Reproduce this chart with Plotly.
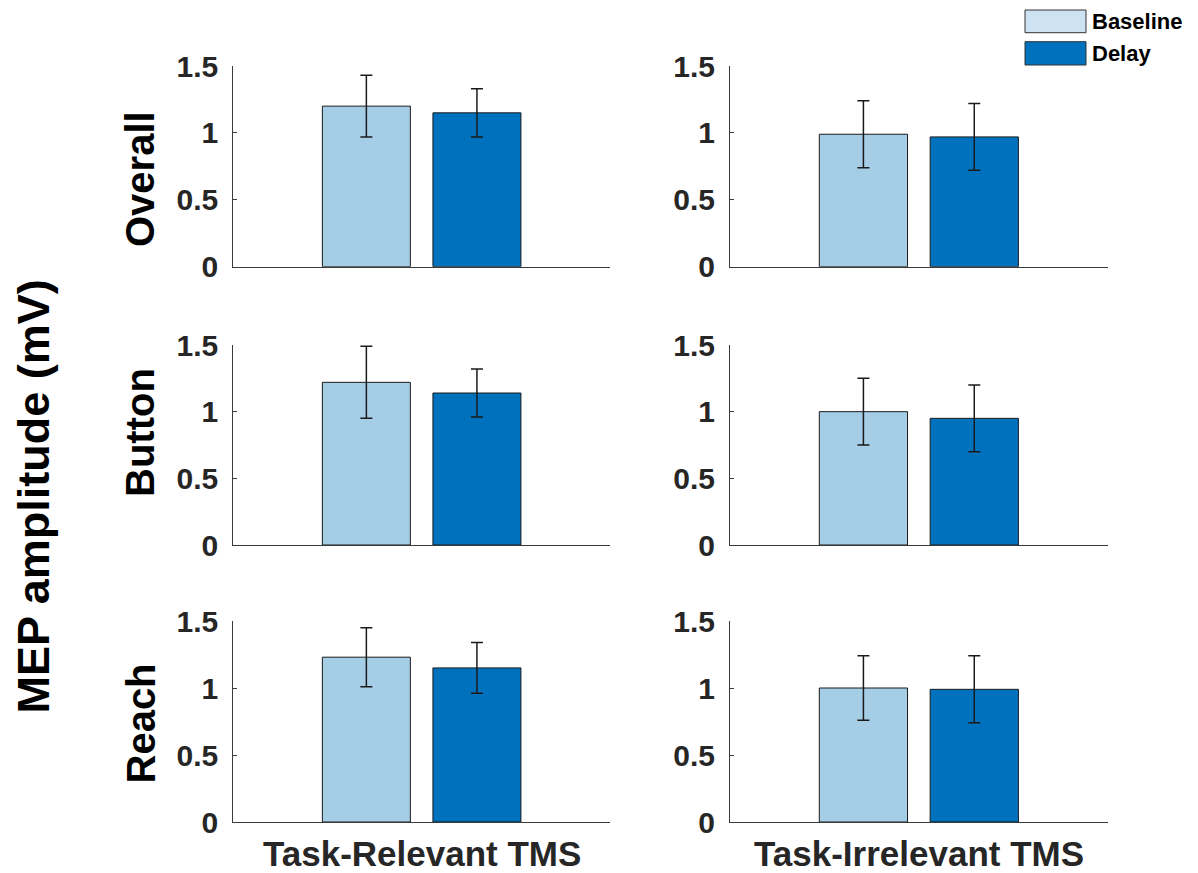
import plotly.graph_objects as go
from plotly.subplots import make_subplots

# MEP amplitude (mV): mean and error per condition
rows = ["Overall", "Button", "Reach"]
columns = ["Task-Relevant TMS", "Task-Irrelevant TMS"]
series = ["Baseline", "Delay"]

baseline_relevant = [1.20, 1.22, 1.23]
baseline_relevant_err = [0.23, 0.27, 0.22]
delay_relevant = [1.15, 1.14, 1.15]
delay_relevant_err = [0.18, 0.18, 0.19]

baseline_irrelevant = [0.99, 1.00, 1.00]
baseline_irrelevant_err = [0.25, 0.25, 0.24]
delay_irrelevant = [0.97, 0.95, 0.99]
delay_irrelevant_err = [0.25, 0.25, 0.25]

y_ticks = [0, 0.5, 1, 1.5]
y_tick_labels = ["0", "0.5", "1", "1.5"]

LIGHT = "#A6CDE6"
DARK = "#0072BD"
LEGEND_LIGHT = "#CDE3F2"
AXIS = "#3a3a3a"
TEXT = "#262626"
FONT = "Liberation Sans"

W, H = 1198, 873

def px_x(p):
    return p / W

def px_y(p):
    return 1 - p / H

fig = make_subplots(rows=3, cols=2)

col_data = [
    (baseline_relevant, baseline_relevant_err, delay_relevant, delay_relevant_err),
    (baseline_irrelevant, baseline_irrelevant_err, delay_irrelevant, delay_irrelevant_err),
]

for c, (b, be, d, de) in enumerate(col_data):
    for r in range(3):
        for name, vals, errs, color in [
            (series[0], b, be, LIGHT),
            (series[1], d, de, DARK),
        ]:
            fig.add_trace(
                go.Bar(
                    x=[columns[c]],
                    y=[vals[r]],
                    name=name,
                    marker=dict(color=color, line=dict(color="#1a1a1a", width=1)),
                    error_y=dict(type="data", array=[errs[r]], color="#1a1a1a",
                                 thickness=1.5, width=6),
                    showlegend=False,
                ),
                row=r + 1, col=c + 1,
            )

# panel placement in pixels
x_domains = [(233.3, 610.0), (730.0, 1107.7)]
y_domains = [(66.0, 266.7), (345.0, 545.0), (621.0, 822.0)]

for r in range(3):
    for c in range(2):
        x0, x1 = x_domains[c]
        y0, y1 = y_domains[r]
        fig.update_xaxes(
            domain=[px_x(x0), px_x(x1)],
            range=[-0.5, 0.5],
            showticklabels=False, ticks="",
            showline=True, linecolor=AXIS, linewidth=1,
            showgrid=False, zeroline=False, fixedrange=True,
            automargin=False,
            row=r + 1, col=c + 1,
        )
        fig.update_yaxes(
            domain=[px_y(y1), px_y(y0)],
            range=[0, 1.5],
            tickvals=y_ticks, ticktext=y_tick_labels,
            ticks="inside", ticklen=4, tickcolor=AXIS,
            ticklabelstandoff=8,
            tickfont=dict(family=FONT, size=30, color=TEXT, weight="bold"),
            showline=True, linecolor=AXIS, linewidth=1,
            showgrid=False, zeroline=False, fixedrange=True,
            automargin=False,
            row=r + 1, col=c + 1,
        )

annotations = []
# column titles under the bottom row
for c, title in enumerate(columns):
    x0, x1 = x_domains[c]
    annotations.append(dict(
        text=title, xref="paper", yref="paper",
        x=px_x((x0 + x1) / 2), y=0, xanchor="center", yanchor="bottom",
        yshift=-2, showarrow=False,
        font=dict(family=FONT, size=35, color=TEXT, weight="bold"),
    ))

# row labels
row_centres = [179, 433, 723.5]
for label, yc in zip(rows, row_centres):
    annotations.append(dict(
        text=label, xref="paper", yref="paper",
        x=px_x(140), y=px_y(yc), xanchor="center", yanchor="middle",
        textangle=-90, showarrow=False,
        font=dict(family=FONT, size=40, color="black", weight="bold"),
    ))

# shared y label
annotations.append(dict(
    text="MEP amplitude (mV)", xref="paper", yref="paper",
    x=px_x(33), y=px_y(496.5), xanchor="center", yanchor="middle",
    textangle=-90, showarrow=False,
    font=dict(family=FONT, size=45, color="black", weight="bold"),
))

# legend
shapes = []
legend_rows = [(series[0], LEGEND_LIGHT, 10, 32.7), (series[1], DARK, 41.7, 65)]
for name, color, top, bottom in legend_rows:
    shapes.append(dict(
        type="rect", xref="paper", yref="paper",
        x0=px_x(1025), x1=px_x(1086), y0=px_y(bottom), y1=px_y(top),
        fillcolor=color, line=dict(color="#333333", width=1),
    ))
    annotations.append(dict(
        text=name, xref="paper", yref="paper",
        x=px_x(1090), y=px_y((top + bottom) / 2), xanchor="left", yanchor="middle",
        showarrow=False,
        font=dict(family=FONT, size=22, color="black", weight="bold"),
    ))

fig.update_layout(
    width=W, height=H, autosize=False,
    margin=dict(l=0, r=0, t=0, b=0),
    paper_bgcolor="white", plot_bgcolor="white",
    barmode="group", bargap=0.413, bargroupgap=0.204,
    showlegend=False,
    annotations=annotations, shapes=shapes,
)

fig.write_html("out.html")
